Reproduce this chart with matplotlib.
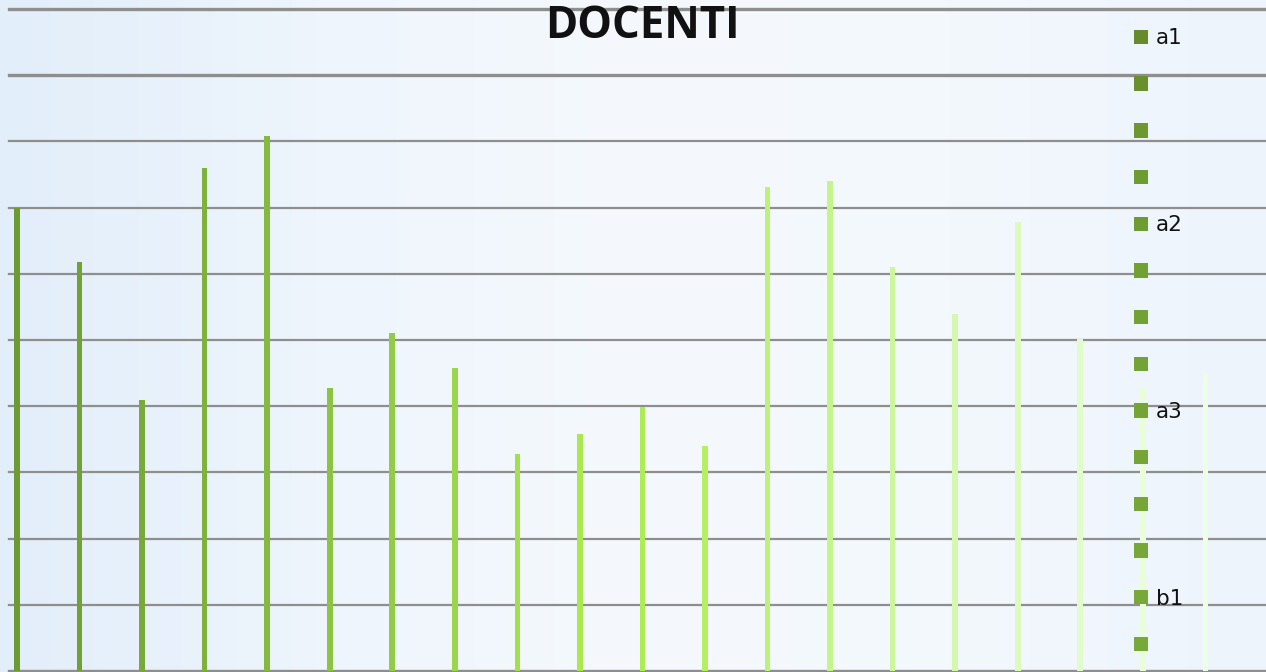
import matplotlib
matplotlib.use("Agg")
import matplotlib.pyplot as plt
import numpy as np
from matplotlib.patches import Patch
from matplotlib.colors import LinearSegmentedColormap

# ---- data ----
title = "DOCENTI"
series_labels = ["a1", "", "", "", "a2", "", "", "", "a3", "", "", "",
                 "b1", "", "", "", "b2", "", "", ""]
values = [7.0, 6.18, 4.09, 7.60, 8.08, 4.28, 5.10, 4.58, 3.28, 3.58,
          3.99, 3.40, 7.31, 7.40, 6.10, 5.40, 6.79, 5.01, 4.28, 4.50]
bar_colors = ["#6b9b32", "#70a134", "#78a93a", "#7fb23c", "#85ba40",
              "#8bc443", "#92cc46", "#9ad64a", "#a3e04d", "#aae850",
              "#aeec55", "#b4f062", "#bcf27a", "#c4f58a", "#ccf69c",
              "#d4f8ad", "#dcfabd", "#e2fbcb", "#e8fdd8", "#eefee4"]
legend_colors = ["#678a2b", "#6a902d", "#6d9830", "#6f9c31", "#6f9c31",
                 "#71a033", "#72a134", "#73a335", "#74a436", "#75a537",
                 "#76a638", "#76a738", "#77a839", "#77a83a"]

fig = plt.figure(figsize=(12.66, 6.72), dpi=100)

# background gradient
bg = fig.add_axes([0, 0, 1, 1], zorder=-10)
cmap = LinearSegmentedColormap.from_list(
    "bg", ["#e2eefa", "#eef5fc", "#f5f9fd", "#f3f8fd", "#edf4fc"])
grad = np.linspace(0, 1, 256)[None, :]
bg.imshow(grad, aspect="auto", cmap=cmap, extent=[0, 1, 0, 1])
bg.axis("off")

ax = fig.add_axes([9 / 1266, 1 / 672, 1257 / 1266, 662 / 672])
ax.patch.set_alpha(0)
x = np.arange(len(values))
ax.bar(x, values, width=0.09, color=bar_colors, zorder=3)
ax.set_xlim(-0.128, 19.97)
ax.set_ylim(0, 10)

for gy in range(0, 11):
    lw = 2.4 if gy >= 9 or gy == 0 else 1.6
    ax.axhline(gy, color="#8e8e8e", lw=lw, zorder=1, clip_on=False)

for s in ax.spines.values():
    s.set_visible(False)
ax.set_xticks([])
ax.set_yticks([])

fig.text(642 / 1266, 1 - 26 / 672, title, ha="center", va="center",
         fontsize=31.5, fontweight="bold", family="Open Sans", color="#111111")

handles = [Patch(facecolor=c, edgecolor="none") for c in legend_colors]
leg = fig.legend(handles, series_labels[:len(handles)],
                 loc="upper left", bbox_to_anchor=(1134 / 1266, 1 - 28.5 / 672),
                 frameon=False, fontsize=15.5, handlelength=0.65,
                 handleheight=0.65, handletextpad=0.35, labelspacing=1.24,
                 borderpad=0, borderaxespad=0)
for t in leg.get_texts():
    t.set_color("#111111")

fig.savefig("out.png", dpi=100)
